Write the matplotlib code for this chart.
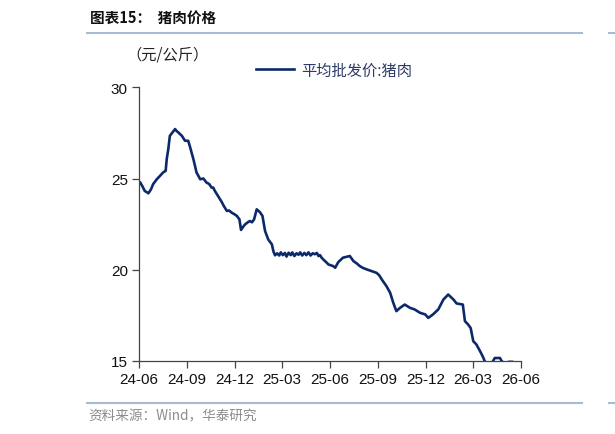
import numpy as np
import matplotlib
matplotlib.use("Agg")
import matplotlib.pyplot as plt
import matplotlib.dates as mdates
from matplotlib.lines import Line2D

plt.rcParams['font.family'] = ['Liberation Sans', 'Noto Sans CJK SC', 'DejaVu Sans']

# days after 2024-06-01 and wholesale pork price (yuan/kg)
start = np.datetime64('2024-06-01')
days = [0, 2, 7, 11, 18, 23, 27, 34, 40, 46,
        51, 53, 56, 59, 64, 69, 72, 75, 78, 82,
        85, 88, 94, 97, 104, 110, 117, 123, 129, 134,
        139, 142, 145, 152, 158, 162, 168, 172, 177, 182,
        187, 192, 195, 199, 203, 208, 212, 216, 220, 225,
        231, 236, 241, 247, 254, 257, 260, 264, 268, 271,
        275, 279, 282, 286, 290, 293, 297, 301, 305, 308,
        312, 316, 320, 324, 328, 332, 336, 340, 343, 346,
        349, 352, 359, 362, 371, 375, 381, 390, 396, 403,
        410, 416, 422, 428, 435, 445, 454, 459, 464, 473,
        480, 486, 492, 499, 508, 518, 527, 537, 547, 553,
        562, 572, 582, 591, 601, 607, 619, 623, 629, 634,
        639, 645, 652, 657, 661, 671, 680, 690, 693, 699,
        707, 713]
price = [24.69, 24.8, 24.55, 24.32, 24.19, 24.41, 24.69, 24.96, 25.14, 25.33,
         25.42, 26.06, 26.61, 27.34, 27.53, 27.71, 27.6, 27.53, 27.45, 27.34,
         27.2, 27.07, 27.07, 26.79, 26.06, 25.33, 24.96, 25.0, 24.78, 24.7,
         24.5, 24.5, 24.32, 24.0, 23.72, 23.5, 23.22, 23.25, 23.13, 23.05,
         22.95, 22.76, 22.18, 22.35, 22.49, 22.6, 22.67, 22.6, 22.76, 23.31,
         23.16, 22.95, 22.12, 21.66, 21.39, 21.0, 20.79, 20.9, 20.78, 20.95,
         20.8, 20.92, 20.72, 20.93, 20.8, 20.95, 20.75, 20.9, 20.82, 20.95,
         20.78, 20.92, 20.8, 20.95, 20.78, 20.9, 20.85, 20.92, 20.75, 20.8,
         20.66, 20.57, 20.38, 20.29, 20.2, 20.11, 20.42, 20.66, 20.7, 20.75,
         20.47, 20.35, 20.2, 20.1, 20.02, 19.92, 19.83, 19.7, 19.47, 19.1,
         18.74, 18.19, 17.73, 17.91, 18.09, 17.91, 17.82, 17.64, 17.55, 17.36,
         17.55, 17.82, 18.37, 18.64, 18.37, 18.15, 18.09, 17.18, 17.0, 16.8,
         16.08, 15.9, 15.53, 15.25, 14.98, 14.7, 15.16, 15.16, 15.0, 14.85,
         14.95, 14.95]

dates = start + np.array(days).astype('timedelta64[D]')

fig = plt.figure(figsize=(6.15, 4.35), dpi=100)
ax = fig.add_axes([0.226, 0.168, 0.621, 0.629])

ax.plot(dates, price, color='#0c2a6a', lw=1.9, label='平均批发价:猪肉')

ax.set_ylim(15, 30)
ax.set_yticks([15, 20, 25, 30])
ax.set_xlim(np.datetime64('2024-06-01'), np.datetime64('2026-06-01'))
ax.xaxis.set_major_locator(mdates.MonthLocator(bymonth=[3, 6, 9, 12]))
ax.xaxis.set_major_formatter(mdates.DateFormatter('%y-%m'))
for s in ['top', 'right']:
    ax.spines[s].set_visible(False)
for s in ['left', 'bottom']:
    ax.spines[s].set_color('#444444')
    ax.spines[s].set_linewidth(0.9)
ax.tick_params(axis='both', labelsize=11, length=5, width=0.9, color='#444444',
               labelcolor='#111111', pad=3)

leg = ax.legend(loc='upper left', bbox_to_anchor=(242 / 615, 1 - 49 / 435),
                bbox_transform=fig.transFigure, frameon=False,
                handlelength=2.5, handletextpad=0.45,
                prop={'family': ['Noto Sans CJK SC'], 'size': 11})
for t in leg.get_texts():
    t.set_color('#2b3a67')

# header / footer
fig.text(90 / 615, 1 - 18 / 435, '图表15：  猪肉价格', fontsize=10.5, fontweight='bold',
         family=['Noto Sans CJK SC'], va='center', ha='left', color='#111111')
fig.text(126 / 615, 1 - 55 / 435, '（元/公斤）', fontsize=11, family=['Noto Sans CJK SC'],
         va='center', ha='left', color='#222222')
fig.text(88 / 615, 1 - 416 / 435, '资料来源：Wind，华泰研究', fontsize=9.8,
         family=['Noto Sans CJK SC', 'Liberation Sans'], va='center', ha='left', color='#8c8c8c')

for y in [34, 404]:
    fig.add_artist(Line2D([87 / 615, 582 / 615], [1 - y / 435, 1 - y / 435],
                          color='#a9bbd2', lw=1.5))
    fig.add_artist(Line2D([609 / 615, 1.0], [1 - y / 435, 1 - y / 435],
                          color='#a9bbd2', lw=1.5))

fig.savefig('out.png', dpi=100)
